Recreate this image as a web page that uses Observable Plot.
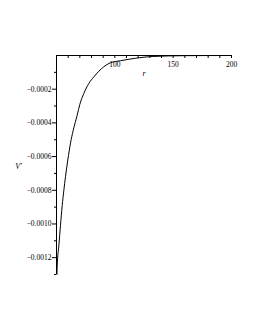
<!DOCTYPE html>
<html>
<head>
<meta charset="utf-8">
<script src="https://cdn.jsdelivr.net/npm/d3@7"></script>
<script src="https://cdn.jsdelivr.net/npm/@observablehq/plot@0.6"></script>
<style>
  html, body { margin: 0; padding: 0; background: #fff; }
  #chart svg { display: block; }
</style>
</head>
<body>
<div id="chart"></div>
<script>
const rValues = [50.4, 50.6, 52.0, 53.4, 54.9, 56.3, 57.7, 59.7, 62.0, 64.3, 67.7, 70.0, 73.4, 77.7, 82.0, 90.5, 96.3, 105, 118, 132, 160, 200];
const vValues = [-0.00130, -0.00125, -0.00113, -0.00101, -0.00089, -0.00080, -0.00072, -0.00062, -0.00052, -0.000445, -0.000355, -0.000290, -0.000226, -0.000166, -0.000127, -0.000067, -0.000043, -0.000031, -0.000016, -0.000006, -0.000001, 0];
const xMajorTicks = [100, 150, 200];
const xMinorTicks = [60, 70, 80, 90, 100, 110, 120, 130, 140, 150, 160, 170, 180, 190, 200];
const yMajorTicks = [-0.0002, -0.0004, -0.0006, -0.0008, -0.0010, -0.0012];
const yMinorTicks = [-0.0001, -0.0003, -0.0005, -0.0007, -0.0009, -0.0011, -0.0013];
const xLabel = "r";
const yLabel = "V′";

const data = rValues.map((r, i) => ({r, v: vValues[i]}));

const W = 255, H = 330;
const mTop = 55, mBottom = 56, mLeft = 56, mRight = 24;
const plotH = H - mTop - mBottom;
const font = "Liberation Serif, Times New Roman, serif";

const chart = Plot.plot({
  width: W,
  height: H,
  marginTop: mTop,
  marginBottom: mBottom,
  marginLeft: mLeft,
  marginRight: mRight,
  style: {fontFamily: font, fontSize: "7.5px", background: "#fff", color: "#000"},
  x: {domain: [50, 200], axis: null},
  y: {domain: [-0.0013, 0], axis: null},
  marks: [
    Plot.ruleY([0], {stroke: "#000", strokeWidth: 1}),
    Plot.ruleX([50], {stroke: "#000", strokeWidth: 1}),
    Plot.tickX(xMinorTicks, {x: d => d, insetBottom: plotH - 3, stroke: "#000"}),
    Plot.text(xMajorTicks, {x: d => d, y: 0, dy: 9, text: d => String(d), fontFamily: font, fontSize: 7.5, fill: "#000"}),
    Plot.axisY(yMajorTicks, {anchor: "left", tickSize: 4, tickPadding: 1, tickFormat: d3.format(".4f"), fontFamily: font, fontSize: 7.5, fill: "#000", stroke: "#000", label: null}),
    Plot.axisY(yMinorTicks, {anchor: "left", tickSize: 2, text: null, label: null, stroke: "#000"}),
    Plot.line(data, {x: "r", y: "v", stroke: "#000", strokeWidth: 1, curve: "monotone-x"}),
    Plot.text([xLabel], {frameAnchor: "top-left", dx: 86, dy: 15, text: d => d, fontStyle: "italic", fontFamily: font, fontSize: 8, fill: "#000"}),
    Plot.text([yLabel], {x: 50, y: -0.00066, dx: -38, text: d => d, fontStyle: "italic", fontFamily: font, fontSize: 8, fill: "#000"})
  ]
});
document.getElementById("chart").appendChild(chart);
</script>
</body>
</html>
